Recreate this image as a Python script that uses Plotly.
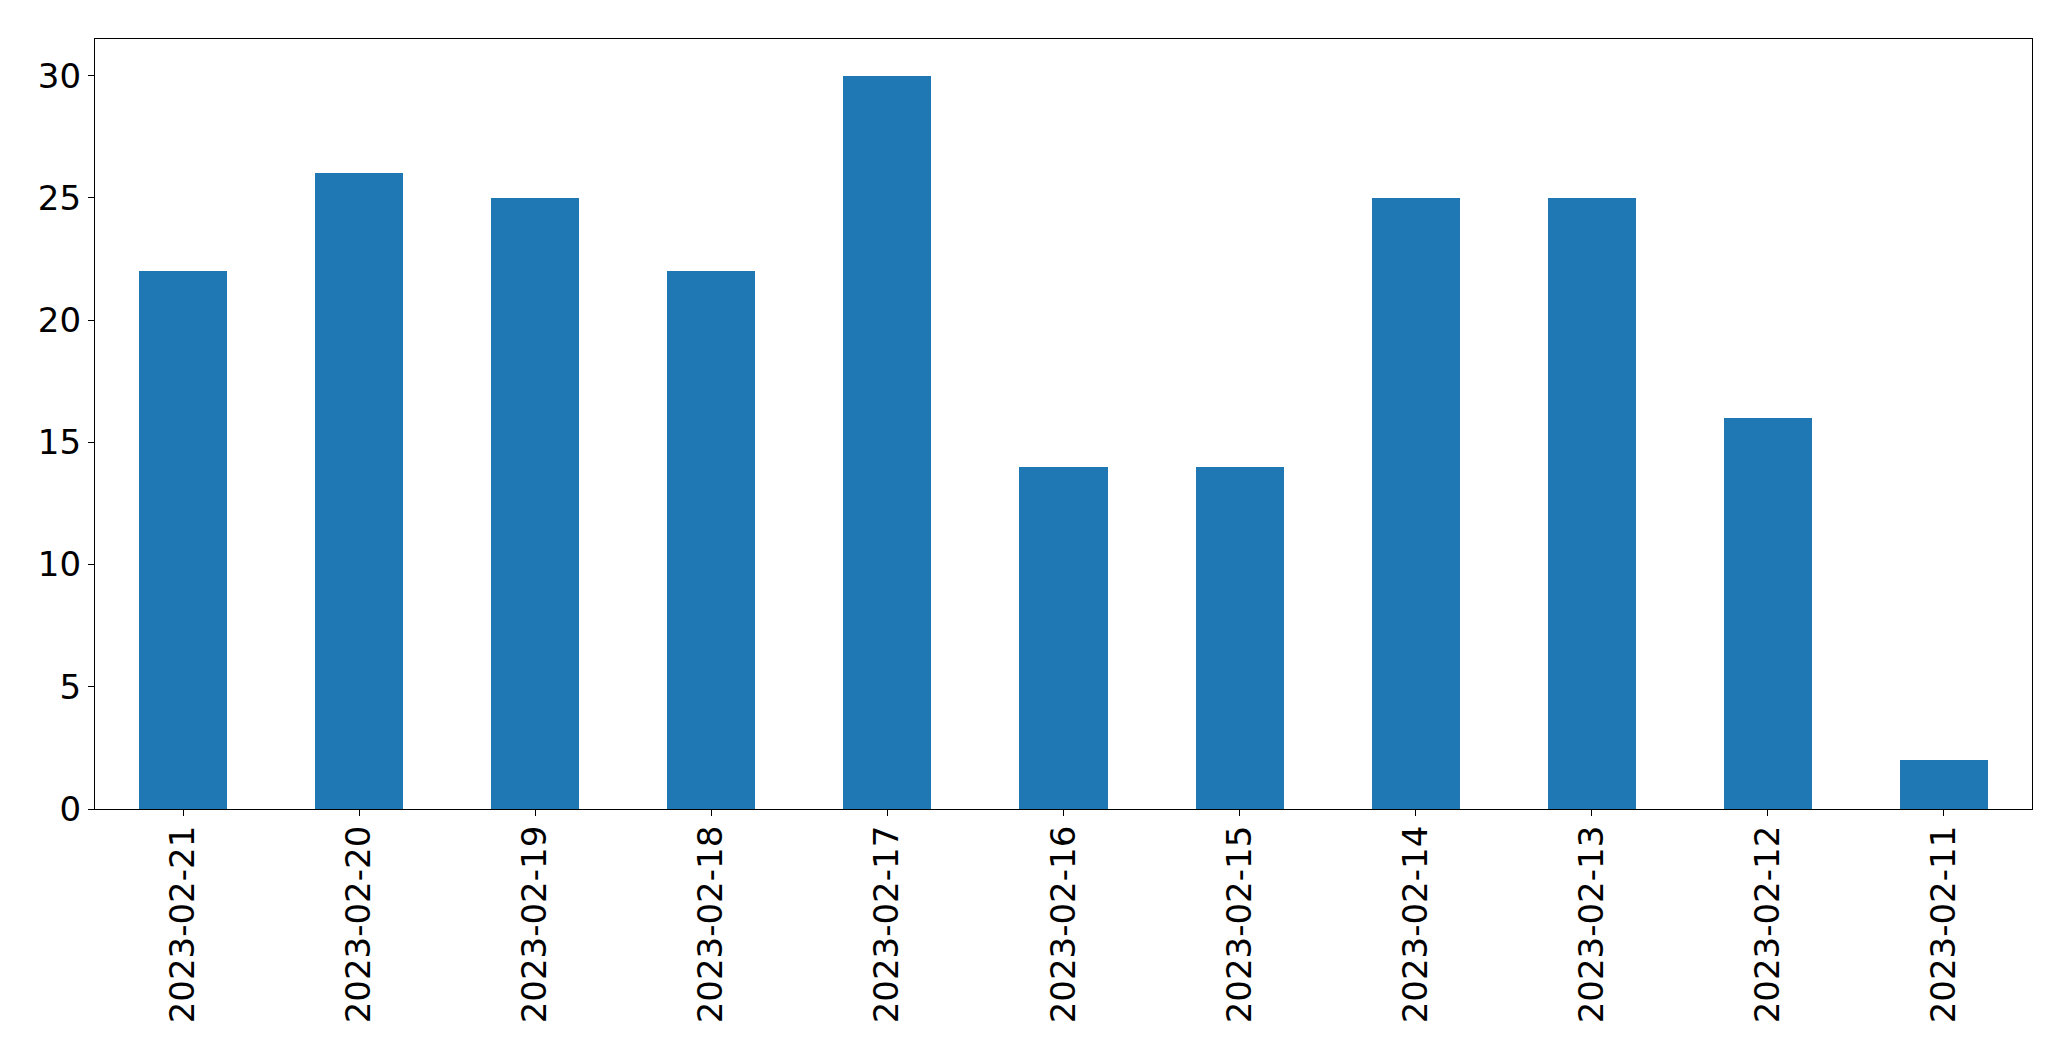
import plotly.graph_objects as go

dates = ["2023-02-21", "2023-02-20", "2023-02-19", "2023-02-18", "2023-02-17",
         "2023-02-16", "2023-02-15", "2023-02-14", "2023-02-13", "2023-02-12", "2023-02-11"]
counts = [22, 26, 25, 22, 30, 14, 14, 25, 25, 16, 2]
y_ticks = [0, 5, 10, 15, 20, 25, 30]

fig = go.Figure(go.Bar(x=list(range(len(dates))), y=counts, width=0.5,
                       marker=dict(color="#1f77b4", line=dict(width=0))))

# page body has an 8px margin, so the figure is offset by 8px
fig.update_layout(
    width=2055, height=1045,
    margin=dict(l=87, r=31, t=31, b=244),
    paper_bgcolor="white", plot_bgcolor="white",
    font=dict(family="DejaVu Sans", size=34, color="black"),
    showlegend=False,
    bargap=0,
)
fig.update_xaxes(
    range=[-0.5, len(dates) - 0.5],
    tickmode="array", tickvals=list(range(len(dates))), ticktext=dates,
    tickangle=-90, ticks="outside", ticklen=6, tickwidth=1.3, tickcolor="black",
    ticklabelstandoff=-4,
    showline=True, linecolor="black", linewidth=1.3, mirror=True,
    showgrid=False, zeroline=False,
)
fig.update_yaxes(
    range=[0, 31.5],
    tickmode="array", tickvals=y_ticks,
    ticks="outside", ticklen=6, tickwidth=1.3, tickcolor="black",
    showline=True, linecolor="black", linewidth=1.3, mirror=True,
    showgrid=False, zeroline=False,
)

fig.write_html("out.html")
